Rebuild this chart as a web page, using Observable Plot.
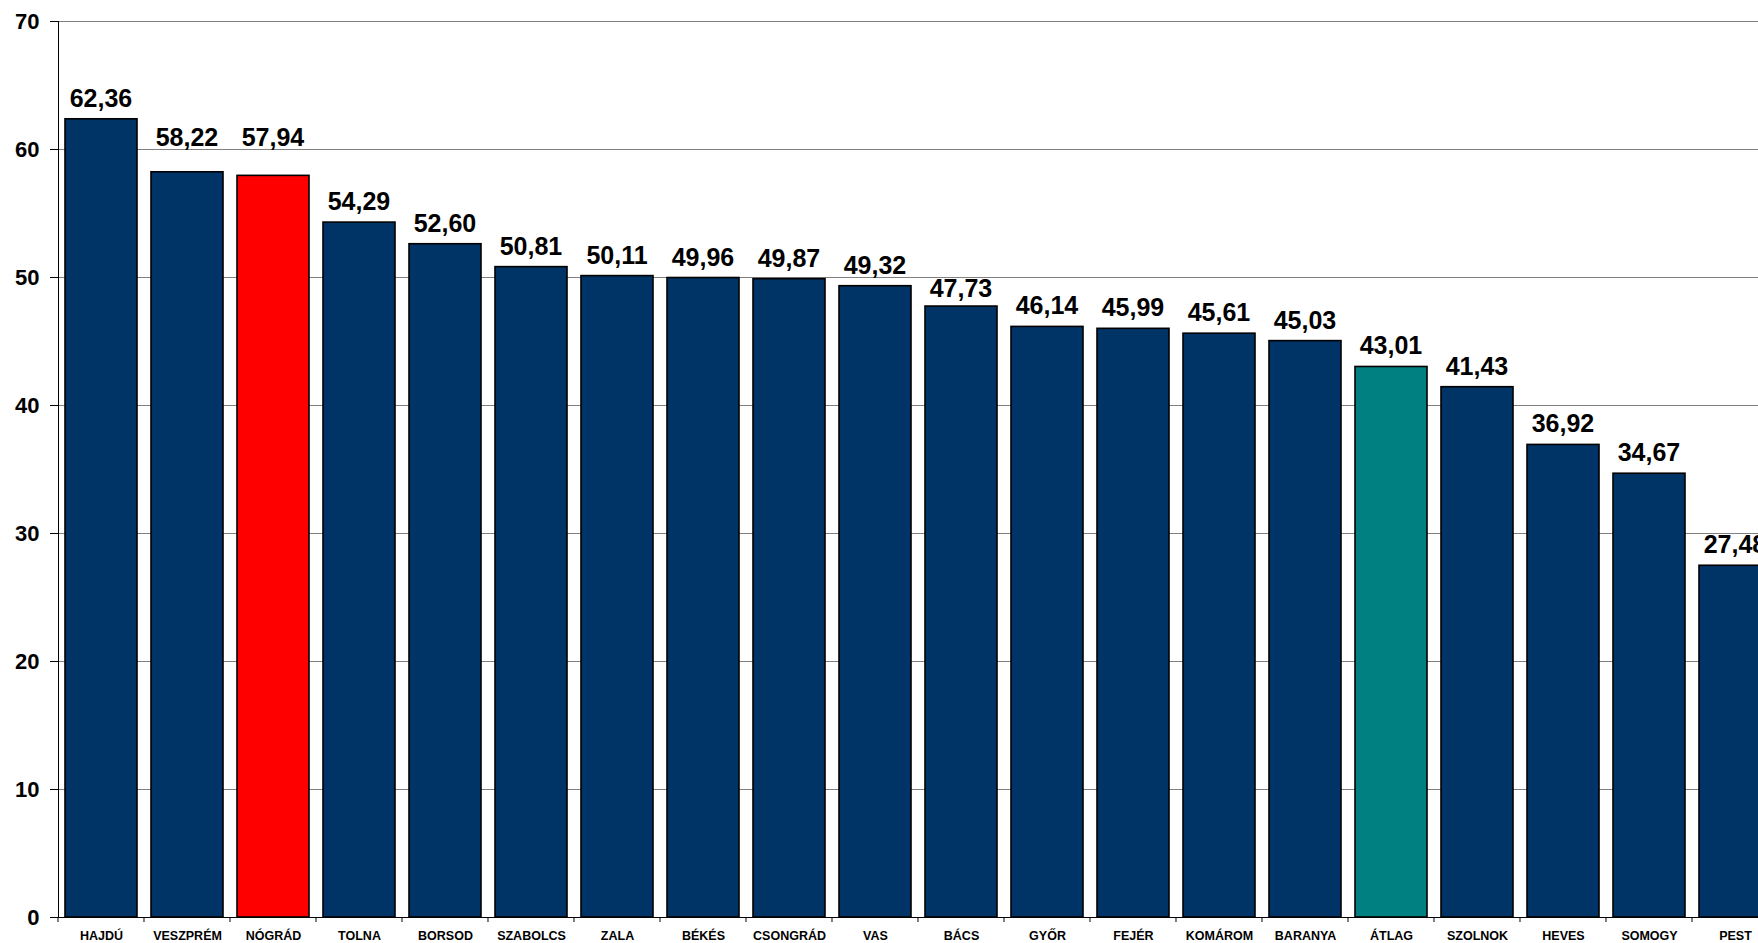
<!DOCTYPE html>
<html>
<head>
<meta charset="utf-8">
<script src="https://cdn.jsdelivr.net/npm/d3@7"></script>
<script src="https://cdn.jsdelivr.net/npm/@observablehq/plot@0.6"></script>
<style>
  html, body { margin: 0; padding: 0; background: #fff; overflow: hidden; }
  #chart svg { display: block; max-width: none !important; height: 943px !important; }
</style>
</head>
<body>
<div id="chart"></div>
<script>
const categories = ["HAJDÚ","VESZPRÉM","NÓGRÁD","TOLNA","BORSOD","SZABOLCS","ZALA","BÉKÉS","CSONGRÁD","VAS","BÁCS","GYŐR","FEJÉR","KOMÁROM","BARANYA","ÁTLAG","SZOLNOK","HEVES","SOMOGY","PEST"];
const values = [62.36,58.22,57.94,54.29,52.60,50.81,50.11,49.96,49.87,49.32,47.73,46.14,45.99,45.61,45.03,43.01,41.43,36.92,34.67,27.48];
const yTicks = [0,10,20,30,40,50,60,70];

const data = categories.map((c, i) => ({cat: c, value: values[i]}));
const fillFor = d => d.cat === "NÓGRÁD" ? "#FF0000" : d.cat === "ÁTLAG" ? "#008080" : "#003366";
const fmt = v => d3.format(".2f")(v).replace(".", ",");

const PI = 0.163;
const LABEL_SIZE = 25;

function boundaryTicks(index, scales, vals, dims) {
  const x = scales.x;
  const step = x(categories[1]) - x(categories[0]);
  const off = step * PI / 2;
  const y0 = dims.height - dims.marginBottom;
  const g = d3.create("svg:g").attr("stroke", "black").attr("stroke-width", 1);
  const xs = categories.map(c => x(c) - off);
  xs.push(x(categories[categories.length - 1]) + step - off);
  for (const xv of xs) {
    g.append("line").attr("x1", xv).attr("x2", xv).attr("y1", y0).attr("y2", y0 + 5);
  }
  return g.node();
}

// value labels above bars, nudged off gridlines they would otherwise cross
function valueLabels(index, scales) {
  const x = scales.x, y = scales.y;
  const step = x(categories[1]) - x(categories[0]);
  const bw = step * (1 - PI);
  const cap = 0.716 * LABEL_SIZE;
  const grids = yTicks.map(t => y(t));
  const g = d3.create("svg:g")
    .attr("font-family", "Arial, 'Liberation Sans', sans-serif")
    .attr("font-size", LABEL_SIZE)
    .attr("font-weight", "bold")
    .attr("text-anchor", "middle")
    .attr("fill", "black");
  for (const d of data) {
    const top = y(d.value);
    let b = top - 12;
    for (const gy of grids) {
      if (gy > b - cap - 2 && gy < b + 3) {
        const up = gy - 3;
        const down = gy + 2 + cap;
        b = (down <= top - 8 && (down - b) < (b - up)) ? down : up;
      }
    }
    g.append("text").attr("x", x(d.cat) + bw / 2).attr("y", b).text(fmt(d.value));
  }
  return g.node();
}

const chart = Plot.plot({
  width: 1800,
  height: 943,
  marginLeft: 58,
  marginRight: 22,
  marginTop: 21,
  marginBottom: 26,
  style: {fontFamily: "Arial, 'Liberation Sans', sans-serif", background: "white", overflow: "visible", maxWidth: "none"},
  x: {domain: categories, paddingInner: PI, paddingOuter: PI / 2, label: null},
  y: {domain: [0, 70], label: null},
  marks: [
    Plot.gridY(yTicks, {stroke: "#808080", strokeOpacity: 1, strokeWidth: 1}),
    Plot.barY(data, {x: "cat", y: "value", fill: fillFor, stroke: "black", strokeWidth: 1.6}),
    valueLabels,
    Plot.axisY({ticks: yTicks, tickSize: 8, tickPadding: 11, fontSize: 22, fontWeight: "bold", tickFormat: d => String(d), label: null}),
    Plot.axisX({tickSize: 0, tickPadding: 14, fontSize: 12.5, fontWeight: "bold", label: null}),
    Plot.frame({anchor: "left", stroke: "black"}),
    Plot.frame({anchor: "bottom", stroke: "black"}),
    boundaryTicks
  ]
});
document.getElementById("chart").appendChild(chart);
</script>
</body>
</html>
